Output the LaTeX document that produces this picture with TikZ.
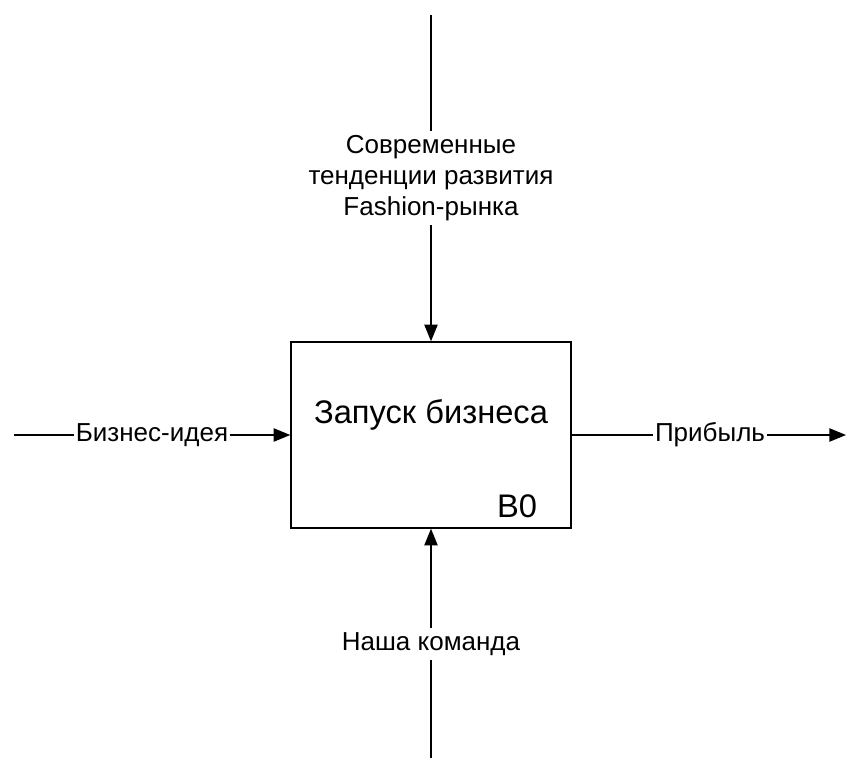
\documentclass[tikz,border=0pt]{standalone}
\usepackage{fontspec}
\setmainfont{Liberation Sans}
\usetikzlibrary{arrows.meta}
\begin{document}
\begin{tikzpicture}[x=0.75pt,y=-0.75pt,
  conn/.style={line width=1pt,draw=black},
  arr/.style={conn,-{Triangle[length=12.5pt,width=10pt]}},
  lbl/.style={font=\fontsize{19.5}{23.25}\selectfont,inner sep=1pt,align=center},
  func/.style={draw=black,line width=1.1pt,minimum width=280*0.75pt,minimum height=186*0.75pt,inner sep=0pt}]
\useasboundingbox (0,0) rectangle (846,759);
\node[func] (box) at (431,435) {};
\node[font=\fontsize{24.5}{28}\selectfont] (title) at (431,415) {Запуск бизнеса};
\node[font=\fontsize{24.5}{28}\selectfont] (id) at (517,506) {B0};
% control (top)
\coordinate (ctop) at (431,15);
\node[lbl,inner sep=3pt] (ctrl) at (431,178) {Современные\\тенденции развития\\Fashion-рынка};
\draw[conn] (ctop) -- (ctrl.north);
\draw[arr] (ctrl.south) -- (box.north);
% input (left)
\coordinate (inL) at (14,435);
\node[lbl] (inp) at (152,435) {Бизнес-идея};
\draw[conn] (inL) -- (inp.west);
\draw[arr] (inp.east) -- (box.west);
% output (right)
\coordinate (outR) at (846,435);
\node[lbl] (outp) at (710,435) {Прибыль};
\draw[conn] (box.east) -- (outp.west);
\draw[arr] (outp.east) -- (outR);
% mechanism (bottom)
\coordinate (mbot) at (431,758);
\node[lbl,inner sep=3pt] (mech) at (431,644) {Наша команда};
\draw[conn] (mbot) -- (mech.south);
\draw[arr] (mech.north) -- (box.south);
\end{tikzpicture}
\end{document}
